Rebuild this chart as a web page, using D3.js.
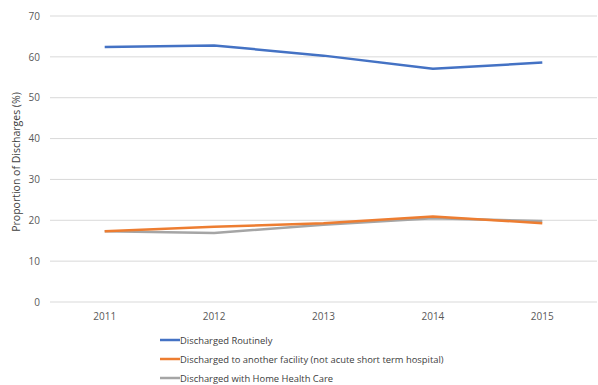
<!DOCTYPE html>
<html>
<head>
<meta charset="utf-8">
<script src="https://cdn.jsdelivr.net/npm/d3@7"></script>
<style>
  html, body { margin: 0; padding: 0; background: #fff; }
  svg { display: block; font-family: "Open Sans", "Liberation Sans", sans-serif; }
</style>
</head>
<body>
<svg id="chart" width="598" height="385"></svg>
<script>
// Discharge disposition shares by year (%)
const years = ["2011", "2012", "2013", "2014", "2015"];
const routine = [62.4, 62.8, 60.3, 57.1, 58.6];
const otherFacility = [17.3, 18.4, 19.3, 20.9, 19.3];
const homeHealth = [17.3, 16.9, 18.9, 20.5, 19.8];
const seriesNames = [
  "Discharged Routinely",
  "Discharged to another facility (not acute short term hospital)",
  "Discharged with Home Health Care"
];
const seriesColors = ["#4472C4", "#ED7D31", "#A5A5A5"];
const yTicks = [0, 10, 20, 30, 40, 50, 60, 70];

const series = [routine, otherFacility, homeHealth].map((vals, i) => ({
  name: seriesNames[i], color: seriesColors[i], values: vals
}));

const svg = d3.select("#chart");
const plotLeft = 50, plotRight = 597, plotTop = 16, plotBottom = 302;

const x = d3.scaleBand().domain(years).range([plotLeft, plotRight]);
const y = d3.scaleLinear().domain([0, 70]).range([plotBottom, plotTop]);

// gridlines
svg.append("g")
  .selectAll("line")
  .data(yTicks)
  .join("line")
  .attr("x1", plotLeft).attr("x2", plotRight)
  .attr("y1", d => y(d)).attr("y2", d => y(d))
  .attr("stroke", "#d9d9d9").attr("stroke-width", 1);

// y axis labels
const yAxis = d3.axisLeft(y).tickValues(yTicks).tickSize(0).tickPadding(10);
svg.append("g")
  .attr("transform", `translate(${plotLeft},0)`)
  .call(yAxis)
  .call(g => g.select(".domain").remove())
  .call(g => g.selectAll("text")
    .attr("font-family", "'Open Sans', sans-serif")
    .attr("font-size", 10).attr("fill", "#595959"));

// x axis labels
const xAxis = d3.axisBottom(x).tickSize(0).tickPadding(11);
svg.append("g")
  .attr("transform", `translate(0,${plotBottom})`)
  .call(xAxis)
  .call(g => g.select(".domain").remove())
  .call(g => g.selectAll("text")
    .attr("font-family", "'Open Sans', sans-serif")
    .attr("font-size", 10).attr("fill", "#595959"));

// y axis title
svg.append("text")
  .attr("transform", `translate(20,${(plotTop + plotBottom) / 2 + 3}) rotate(-90)`)
  .attr("text-anchor", "middle")
  .attr("font-size", 10.5)
  .attr("fill", "#404040")
  .text("Proportion  of Discharges (%)");

// series lines
const line = d3.line()
  .x((d, i) => x(years[i]) + x.bandwidth() / 2)
  .y(d => y(d));

svg.append("g")
  .selectAll("path")
  .data(series.slice().reverse())
  .join("path")
  .attr("d", d => line(d.values))
  .attr("fill", "none")
  .attr("stroke", d => d.color)
  .attr("stroke-width", 2.5)
  .attr("stroke-linejoin", "round");

// legend
const legend = svg.append("g")
  .selectAll("g")
  .data(series)
  .join("g")
  .attr("transform", (d, i) => `translate(160,${340 + i * 19})`);

legend.append("line")
  .attr("x1", 0).attr("x2", 20)
  .attr("stroke", d => d.color).attr("stroke-width", 2.5);

legend.append("text")
  .attr("x", 20).attr("y", 3.5)
  .attr("font-size", 9.4)
  .attr("fill", "#404040")
  .text(d => d.name);
</script>
</body>
</html>
